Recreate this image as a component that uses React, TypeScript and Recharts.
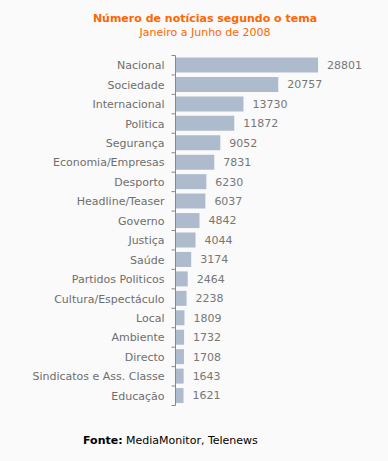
import { Bar, BarChart, LabelList, XAxis, YAxis } from "recharts";

const temas = [
  "Nacional",
  "Sociedade",
  "Internacional",
  "Politica",
  "Segurança",
  "Economia/Empresas",
  "Desporto",
  "Headline/Teaser",
  "Governo",
  "Justiça",
  "Saúde",
  "Partidos Politicos",
  "Cultura/Espectáculo",
  "Local",
  "Ambiente",
  "Directo",
  "Sindicatos e Ass. Classe",
  "Educação",
];
const noticias = [28801, 20757, 13730, 11872, 9052, 7831, 6230, 6037, 4842, 4044, 3174, 2464, 2238, 1809, 1732, 1708, 1643, 1621];

const data = temas.map((tema, i) => ({ tema, n: noticias[i] }));

const FONT = '"DejaVu Sans", Verdana, sans-serif';
const PLOT_H = 350;
const BAND = PLOT_H / temas.length;

function TemaTick(props: any) {
  const { x, y, payload, index } = props;
  const last = index === temas.length - 1;
  return (
    <g>
      <line x1={x - 4} x2={x} y1={y - BAND / 2} y2={y - BAND / 2} stroke="#888" />
      {last && <line x1={x - 4} x2={x} y1={y + BAND / 2} y2={y + BAND / 2} stroke="#888" />}
      <text x={x - 11} y={y} dy={4} textAnchor="end" fill="#6e6e6e" fontSize={11} fontFamily={FONT}>
        {payload.value}
      </text>
    </g>
  );
}

export default function App() {
  return (
    <div style={{ position: "absolute", left: 0, top: 0, width: 388, height: 461, background: "#fafafa", fontFamily: FONT }}>
      <div style={{ position: "absolute", left: 0, width: 410, top: 12, textAlign: "center", color: "#ff6600", fontSize: 11, fontWeight: "bold", lineHeight: "14px" }}>
        Número de notícias segundo o tema
      </div>
      <div style={{ position: "absolute", left: 0, width: 410, top: 26, textAlign: "center", color: "#ff6600", fontSize: 11, lineHeight: "14px" }}>
        Janeiro a Junho de 2008
      </div>
      <BarChart
        width={388}
        height={461}
        data={data}
        layout="vertical"
        margin={{ top: 55.5, right: 64, bottom: 55.5, left: 0 }}
        barCategoryGap={2}
      >
        <XAxis type="number" domain={[0, 30000]} hide />
        <YAxis
          type="category"
          dataKey="tema"
          width={175.5}
          axisLine={{ stroke: "#888" }}
          tickLine={false}
          tickSize={0}
          tickMargin={0}
          tick={<TemaTick />}
          interval={0}
        />
        <Bar dataKey="n" fill="#aebbcc" isAnimationActive={false}>
          <LabelList dataKey="n" position="right" offset={9} fill="#777" fontSize={11} fontFamily={FONT} />
        </Bar>
      </BarChart>
      <div style={{ position: "absolute", left: 83, top: 434, color: "#000", fontSize: 11, lineHeight: "14px", whiteSpace: "nowrap" }}>
        <b>Fonte:</b> MediaMonitor, Telenews
      </div>
    </div>
  );
}
